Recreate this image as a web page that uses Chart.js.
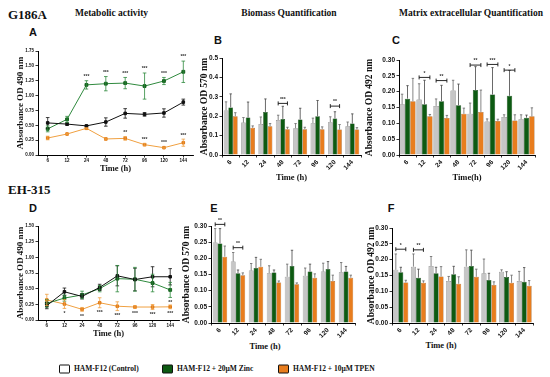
<!DOCTYPE html>
<html><head><meta charset="utf-8">
<script src="https://cdn.jsdelivr.net/npm/chart.js@4.4.1/dist/chart.umd.min.js"></script>
<style>
body{margin:0;width:550px;height:377px;background:#fff;position:relative;overflow:hidden}
.t{position:absolute;white-space:nowrap;font-family:'Liberation Serif',serif;font-weight:bold;color:#111;line-height:1}
.c{transform:translate(-50%,-50%)}
.l{transform:translateY(-50%)}
.hd{font-size:9.5px}
.big{font-size:13px}
.lt{font-family:'Liberation Sans',Arial,sans-serif;font-size:11px}
.lg{font-size:7.5px}
.box{position:absolute;width:9px;height:7px;border:1px solid #111;border-radius:1px;transform:translateY(-50%)}
canvas{position:absolute}
</style></head><body>
<div class="t big l" style="left:8px;top:14px">G186A</div>
<div class="t hd l" style="left:75px;top:14px">Metabolic activity</div>
<div class="t hd c" style="left:289px;top:14px">Biomass Quantification</div>
<div class="t hd c" style="left:471px;top:14px">Matrix extracellular Quantification</div>
<div class="t lt c" style="left:33px;top:32px">A</div>
<div class="t lt c" style="left:218px;top:40px">B</div>
<div class="t lt c" style="left:396px;top:40px">C</div>
<div class="t big l" style="left:8px;top:189px">EH-315</div>
<div class="t lt c" style="left:33px;top:208px">D</div>
<div class="t lt c" style="left:214px;top:208px">E</div>
<div class="t lt c" style="left:391px;top:208px">F</div>
<div class="t c" style="left:265px;top:346px;font-size:8.5px">Time (h)</div>
<div class="t c" style="left:441px;top:345px;font-size:8.5px">Time (h)</div>
<div class="box" style="left:59px;top:369px;background:#fff"></div>
<div class="t lg l" id="lg0" style="left:74px;top:369px"></div>
<div class="box" style="left:162px;top:369px;background:#0d5a12"></div>
<div class="t lg l" id="lg1" style="left:177px;top:369px"></div>
<div class="box" style="left:278px;top:369px;background:#e87d1e"></div>
<div class="t lg l" id="lg2" style="left:293px;top:369px"></div>
<canvas id="cA"></canvas><canvas id="cB"></canvas><canvas id="cC"></canvas>
<canvas id="cD"></canvas><canvas id="cE"></canvas><canvas id="cF"></canvas>
<script>
// ---------- DATA ----------
const categories = ['6','12','24','48','72','96','120','144'];
const seriesNames = ['HAM-F12 (Control)','HAM-F12 + 20\u00B5M Zinc','HAM-F12 + 10\u00B5M TPEN'];

// Panel A (G186A metabolic activity, OD 490)
const aControl    = [0.54,0.52,0.49,0.555,0.70,0.684,0.707,0.89];
const aControlErr = [0.09,0.02,0.01,0.07,0.08,0.03,0.07,0.05];
const aZinc       = [0.44,0.60,1.18,1.20,1.21,1.16,1.245,1.40];
const aZincErr    = [0.05,0.05,0.07,0.12,0.095,0.22,0.06,0.18];
const aTpen       = [0.286,0.353,0.449,0.27,0.28,0.174,0.123,0.207];
const aTpenErr    = [0.03,0.01,0.01,0.015,0.03,0.02,0.01,0.06];
const aZincStars  = ['','','***','***','***','***','***','***'];
const aTpenStars  = ['','','','','**','***','***','***'];

// Panel B (G186A biomass, OD 570)
const bControl    = [0.23,0.167,0.16,0.18,0.138,0.164,0.169,0.148];
const bControlErr = [0.044,0.026,0.036,0.025,0.024,0.026,0.028,0.022];
const bZinc       = [0.245,0.193,0.222,0.186,0.183,0.20,0.188,0.162];
const bZincErr    = [0.07,0.08,0.067,0.065,0.058,0.081,0.035,0.05];
const bTpen       = [0.20,0.14,0.148,0.133,0.133,0.133,0.131,0.131];
const bTpenErr    = [0.018,0.01,0.014,0.01,0.01,0.012,0.026,0.01];
const bBrackets   = [{i:3,y:0.266,label:'***'},{i:6,y:0.252,label:'**'}];

// Panel C (G186A matrix, OD 492)
const cControl    = [0.16,0.175,0.155,0.204,0.13,0.106,0.12,0.113];
const cControlErr = [0.032,0.05,0.022,0.032,0.034,0.008,0.007,0.014];
const cZinc       = [0.178,0.16,0.17,0.157,0.205,0.191,0.187,0.118];
const cZincErr    = [0.041,0.076,0.05,0.067,0.074,0.085,0.08,0.008];
const cTpen       = [0.17,0.122,0.117,0.13,0.136,0.107,0.109,0.122];
const cTpenErr    = [0.072,0.006,0.008,0.018,0.069,0.006,0.018,0.027];
const cBrackets   = [{i:1,y:0.245,label:'*'},{i:2,y:0.235,label:'**'},{i:4,y:0.284,label:'**'},{i:5,y:0.286,label:'***'},{i:6,y:0.268,label:'*'}];

// Panel D (EH-315 metabolic activity, OD 490)
const dControl    = [0.23,0.45,0.376,0.52,0.705,0.646,0.69,0.69];
const dControlErr = [0.05,0.06,0.04,0.05,0.16,0.18,0.16,0.13];
const dZinc       = [0.265,0.35,0.40,0.50,0.66,0.65,0.59,0.48];
const dZincErr    = [0.06,0.05,0.06,0.05,0.21,0.19,0.14,0.12];
const dTpen       = [0.32,0.255,0.17,0.275,0.22,0.207,0.207,0.21];
const dTpenErr    = [0.09,0.07,0.03,0.08,0.07,0.02,0.04,0.03];
const dZincStars  = ['','','','','','','','**'];
const dTpenStars  = ['','*','**','***','***','***','***','***'];

// Panel E (EH-315 biomass, OD 570)
const eControl    = [0.249,0.19,0.162,0.154,0.143,0.146,0.159,0.157];
const eControlErr = [0.043,0.028,0.022,0.023,0.039,0.024,0.026,0.03];
const eZinc       = [0.246,0.154,0.17,0.156,0.176,0.159,0.167,0.159];
const eZincErr    = [0.046,0.01,0.033,0.008,0.049,0.023,0.023,0.016];
const eTpen       = [0.205,0.148,0.174,0.125,0.12,0.14,0.13,0.14];
const eTpenErr    = [0.033,0.007,0.023,0.005,0.004,0.012,0.018,0.008];
const eBrackets   = [{i:0,y:0.305,label:'**'},{i:1,y:0.233,label:'**'}];

// Panel F (EH-315 matrix, OD 492)
const fControl    = [0.168,0.178,0.18,0.133,0.178,0.157,0.162,0.133];
const fControlErr = [0.05,0.04,0.03,0.014,0.053,0.045,0.006,0.03];
const fZinc       = [0.16,0.143,0.157,0.154,0.18,0.136,0.145,0.13];
const fZincErr    = [0.016,0.027,0.019,0.025,0.05,0.021,0.017,0.045];
const fTpen       = [0.128,0.127,0.147,0.124,0.146,0.12,0.127,0.118];
const fTpenErr    = [0.007,0.006,0.031,0.022,0.024,0.01,0.024,0.016];
const fBrackets   = [{i:0,y:0.233,label:'*'},{i:1,y:0.231,label:'**'}];

// ---------- STYLE ----------
const COL = {ctrl:'#111111', zinc:'#2f8a3e', zincPt:'#16631f', tpen:'#f0a040', tpenPt:'#e07a18',
             barCtrl:'#c6c6c6', barZinc:'#0d5a12', barTpen:'#e87d1e'};
seriesNames.forEach((n,i)=>document.getElementById('lg'+i).textContent=n);

const bracketMap = {};
const overlay = {
  id:'overlay',
  afterDatasetsDraw(chart){
    const ctx = chart.ctx, ys = chart.scales.y;
    ctx.save();
    chart.data.datasets.forEach((ds,i)=>{
      if(!ds.err) return;
      const meta = chart.getDatasetMeta(i);
      meta.data.forEach((el,j)=>{
        const v = ds.data[j], e = ds.err[j];
        const yt = ys.getPixelForValue(v+e);
        const yb = ys.getPixelForValue(ds.errBoth ? v-e : v);
        const cw = ds.cap || 2;
        ctx.strokeStyle = ds.errColor; ctx.lineWidth = 0.8;
        ctx.beginPath();
        ctx.moveTo(el.x, yt); ctx.lineTo(el.x, yb);
        ctx.moveTo(el.x-cw, yt); ctx.lineTo(el.x+cw, yt);
        if(ds.errBoth){ ctx.moveTo(el.x-cw, yb); ctx.lineTo(el.x+cw, yb); }
        ctx.stroke();
        if(ds.stars && ds.stars[j]){
          ctx.fillStyle = '#333'; ctx.font = 'bold 5px "Liberation Sans"';
          ctx.textAlign = 'center'; ctx.textBaseline = 'middle';
          const sy = ds.starsBelow ? ys.getPixelForValue(v-e)+5 : yt-4;
          ctx.fillText(ds.stars[j], el.x, sy);
        }
      });
    });
    (bracketMap[chart.canvas.id]||[]).forEach(b=>{
      const a = chart.getDatasetMeta(0).data[b.i], c = chart.getDatasetMeta(2).data[b.i];
      const y = ys.getPixelForValue(b.y);
      ctx.strokeStyle = '#111'; ctx.lineWidth = 0.9;
      ctx.beginPath();
      ctx.moveTo(a.x, y); ctx.lineTo(c.x, y);
      ctx.moveTo(a.x, y-2); ctx.lineTo(a.x, y+2);
      ctx.moveTo(c.x, y-2); ctx.lineTo(c.x, y+2);
      ctx.stroke();
      ctx.fillStyle = '#333'; ctx.font = 'bold 5px "Liberation Sans"';
      ctx.textAlign = 'center'; ctx.textBaseline = 'middle';
      ctx.fillText(b.label, (a.x+c.x)/2, y-4);
    });
    ctx.restore();
  }
};
Chart.register(overlay);

function makePanel(id, g, type, datasets, brackets){
  const cv = document.getElementById(id);
  const left = g.L - g.yW, top = g.T - g.padT;
  const w = Math.round(g.R + g.padR - left), h = Math.round(g.B + g.xH - top);
  cv.style.left = left+'px'; cv.style.top = top+'px';
  cv.width = w; cv.height = h; cv.style.width = w+'px'; cv.style.height = h+'px';
  bracketMap[id] = brackets || [];
  const tickFont = {family:'Liberation Sans', weight:'bold', size:g.tick};
  const titleFont = {family:'Liberation Serif', weight:'bold', size:g.titleSize||9.5};
  new Chart(cv, {
    type,
    data:{labels:categories, datasets},
    options:{
      responsive:false, animation:false, devicePixelRatio:1,
      layout:{padding:{top:g.padT, right:g.padR, left:0, bottom:0}},
      plugins:{legend:{display:false}, tooltip:{enabled:false}},
      datasets:{bar:{categoryPercentage:g.cat||0.82, barPercentage:1}},
      scales:{
        x:{ type:'category', offset:true,
          grid:{drawOnChartArea:false, drawTicks:true, tickLength:2.5, color:'#000', lineWidth:0.8},
          border:{display:true, color:'#000', width:1},
          ticks:{font:tickFont, color:'#111', padding:g.xtp||1, autoSkip:false, maxRotation:g.rot, minRotation:g.rot},
          title:{display:!!g.xTitle, text:g.xTitle||'', color:'#111',
                 font:{family:'Liberation Serif', weight:'bold', size:8.5}, padding:{top:0, bottom:g.xPad||0}},
          afterFit(s){ s.height = g.xH; }
        },
        y:{ min:0, max:g.yMax,
          grid:{drawOnChartArea:false, drawTicks:true, tickLength:2.5, color:'#000', lineWidth:0.8},
          border:{display:true, color:'#000', width:1},
          ticks:{stepSize:g.yStep, font:tickFont, color:'#111', padding:1.5, callback:v=>Number(v).toFixed(g.dec)},
          title:{display:true, text:g.yTitle, color:'#111', font:titleFont, padding:{top:g.yPad, bottom:0}},
          afterFit(s){ s.width = g.yW; }
        }
      }
    }
  });
}

function lineSets(ctrl, ctrlE, zinc, zincE, tpen, tpenE, zStars, tStars, below){
  return [
    {data:ctrl, err:ctrlE, errBoth:true, errColor:COL.ctrl, borderColor:COL.ctrl, backgroundColor:COL.ctrl,
     borderWidth:1, pointStyle:'rect', pointRadius:1.8, cap:1.8},
    {data:zinc, err:zincE, errBoth:true, errColor:COL.zinc, borderColor:COL.zinc, backgroundColor:COL.zincPt,
     pointBorderColor:COL.zincPt, borderWidth:1, pointStyle:'rect', pointRadius:2, cap:1.8, stars:zStars, starsBelow:below},
    {data:tpen, err:tpenE, errBoth:true, errColor:COL.tpen, borderColor:COL.tpen, backgroundColor:COL.tpenPt,
     pointBorderColor:COL.tpenPt, borderWidth:1, pointStyle:'rect', pointRadius:1.8, cap:1.8, stars:tStars, starsBelow:below}
  ];
}
function barSets(ctrl, ctrlE, zinc, zincE, tpen, tpenE){
  return [
    {data:ctrl, err:ctrlE, errColor:'#666', backgroundColor:COL.barCtrl, borderColor:'#555', borderWidth:0.5, cap:1.2},
    {data:zinc, err:zincE, errColor:'#444', backgroundColor:COL.barZinc, borderColor:'#062e08', borderWidth:0.5, cap:1.2},
    {data:tpen, err:tpenE, errColor:'#666', backgroundColor:COL.barTpen, borderColor:'#8a4a10', borderWidth:0.5, cap:1.2}
  ];
}

makePanel('cA', {L:38,T:51,R:194,B:155,yW:26,xH:21,padT:6,padR:4,yPad:3,xPad:2,tick:4.5,rot:0,yMax:1.75,yStep:0.25,dec:2,
  yTitle:'Absorbance OD 490 nm', xTitle:'Time (h)', titleSize:9},
  'line', lineSets(aControl,aControlErr,aZinc,aZincErr,aTpen,aTpenErr,aZincStars,aTpenStars,false));
makePanel('cB', {L:222,T:58,R:361,B:155,yW:24,xH:28,padT:6,padR:3,yPad:1.3,xPad:0.5,tick:6.5,rot:45,yMax:0.5,yStep:0.1,dec:1,
  yTitle:'Absorbance OD 570 nm', xTitle:'Time (h)', cat:0.8},
  'bar', barSets(bControl,bControlErr,bZinc,bZincErr,bTpen,bTpenErr), bBrackets);
makePanel('cC', {L:399,T:60,R:535,B:155,yW:35,xH:28,padT:6,padR:6,yPad:0.3,xPad:0,tick:6.5,rot:45,yMax:0.30,yStep:0.05,dec:2,
  yTitle:'Absorbance OD 492 nm', xTitle:'Time(h)', cat:0.95},
  'bar', barSets(cControl,cControlErr,cZinc,cZincErr,cTpen,cTpenErr), cBrackets);
makePanel('cD', {L:38,T:226,R:180,B:320,yW:26,xH:20,padT:6,padR:4,yPad:3,xPad:1,tick:4.5,rot:0,yMax:1.5,yStep:0.25,dec:2,
  yTitle:'Absorbance OD 490 nm', xTitle:'Time (h)', titleSize:9},
  'line', lineSets(dControl,dControlErr,dZinc,dZincErr,dTpen,dTpenErr,dZincStars,dTpenStars,true));
makePanel('cE', {L:211,T:226,R:355,B:323,yW:30,xH:18,padT:10,padR:3,yPad:0.3,tick:6.5,rot:45,yMax:0.30,yStep:0.05,dec:2,
  yTitle:'Absorbance OD 570 nm', cat:0.8},
  'bar', barSets(eControl,eControlErr,eZinc,eZincErr,eTpen,eTpenErr), eBrackets);
makePanel('cF', {L:392,T:228,R:533,B:323,yW:26,xH:18,padT:8,padR:6,yPad:0.3,tick:6.5,rot:45,yMax:0.30,yStep:0.05,dec:2,
  yTitle:'Absorbance OD 492 nm', cat:0.85},
  'bar', barSets(fControl,fControlErr,fZinc,fZincErr,fTpen,fTpenErr), fBrackets);
</script>
</body></html>
